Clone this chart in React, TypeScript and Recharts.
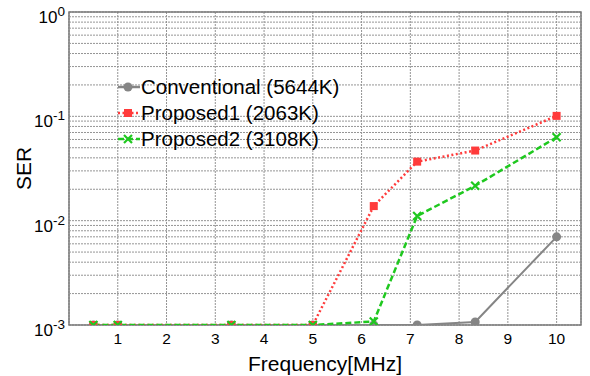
import {
  CartesianGrid,
  Line,
  LineChart,
  ReferenceArea,
  ReferenceLine,
  XAxis,
  YAxis,
} from "recharts";

const FONT = "Arial, 'Liberation Sans', sans-serif";

const freq = [0.5, 1, 3.33, 5, 6.25, 7.14, 8.33, 10];
const conventional = [0.001, 0.001, 0.001, 0.001, 0.001, 0.001, 0.00107, 0.007];
const proposed1 = [0.001, 0.001, 0.001, 0.001, 0.0138, 0.0368, 0.047, 0.101];
const proposed2 = [0.001, 0.001, 0.001, 0.001, 0.00108, 0.0111, 0.0216, 0.063];

const xTicks = [1, 2, 3, 4, 5, 6, 7, 8, 9, 10];
const yTicks = [0.001, 0.01, 0.1, 1];
const minorY = [0.001, 0.01, 0.1].flatMap((d) =>
  [2, 3, 4, 5, 6, 7, 8, 9].map((m) => +(d * m).toPrecision(3))
);

const series = [
  { key: "conv", name: "Conventional (5644K)", color: "#858585", dash: undefined, marker: "circle" },
  { key: "p1", name: "Proposed1 (2063K)", color: "#ff3b3b", dash: "2 2.5", marker: "square" },
  { key: "p2", name: "Proposed2 (3108K)", color: "#1fc81f", dash: "6 3", marker: "cross" },
];

const rows = freq.map((f, i) => ({
  f,
  conv: conventional[i],
  p1: proposed1[i],
  p2: proposed2[i],
}));

function Marker({ type, cx, cy, color }: { type: string; cx: number; cy: number; color: string }) {
  if (type === "circle") return <circle cx={cx} cy={cy} r={4.5} fill={color} stroke="none" />;
  if (type === "square")
    return <rect x={cx - 4} y={cy - 4} width={8} height={8} fill={color} stroke="none" />;
  return (
    <path
      d={`M${cx - 4},${cy - 4}L${cx + 4},${cy + 4}M${cx - 4},${cy + 4}L${cx + 4},${cy - 4}`}
      stroke={color}
      strokeWidth={2.2}
      fill="none"
    />
  );
}

function YTick({ x, y, payload }: any) {
  const exp = Math.round(Math.log10(payload.value));
  return (
    <text x={x + 4} y={y} textAnchor="end" fontFamily={FONT} fill="#000">
      <tspan fontSize={17} dy={11}>10</tspan>
      <tspan fontSize={13.5} dy={-7}>{exp}</tspan>
    </text>
  );
}

function XTick({ x, y, payload }: any) {
  return (
    <text x={x} y={y} dy={11} textAnchor="middle" fontFamily={FONT} fontSize={15.5} fill="#000">
      {payload.value}
    </text>
  );
}

function SerLabel({ viewBox }: any) {
  const cx = 23;
  const cy = viewBox.y + viewBox.height / 2;
  return (
    <text
      x={cx}
      y={cy}
      transform={`rotate(-90 ${cx} ${cy})`}
      textAnchor="middle"
      dominantBaseline="central"
      fontFamily={FONT}
      fontSize={21}
      fill="#000"
    >
      SER
    </text>
  );
}

function LegendBox() {
  return (
    <div
      style={{
        position: "absolute",
        left: 117,
        top: 74,
        fontFamily: FONT,
        fontSize: 20.5,
        lineHeight: "26px",
        color: "#000",
      }}
    >
      {series.map((s) => (
        <div key={s.key} style={{ display: "flex", alignItems: "center", height: 26 }}>
          <svg width={24} height={26}>
            <line x1={1} y1={13} x2={23} y2={13} stroke={s.color} strokeWidth={2.5} strokeDasharray={s.dash} />
            <Marker type={s.marker} cx={11} cy={13} color={s.color} />
          </svg>
          <span style={{ whiteSpace: "nowrap" }}>{s.name}</span>
        </div>
      ))}
    </div>
  );
}

export default function App() {
  return (
    <div style={{ position: "absolute", left: 0, top: 0, width: 590, height: 376, background: "#fff" }}>
      <LineChart width={590} height={376} data={rows} margin={{ top: 12, right: 9, bottom: 0, left: 0 }}>
        <CartesianGrid stroke="#959595" strokeDasharray="2 1" />
        {minorY.map((v) => (
          <ReferenceLine key={v} y={v} stroke="#959595" strokeDasharray="2 1" />
        ))}
        <XAxis
          dataKey="f"
          type="number"
          domain={[0, 10.5]}
          ticks={xTicks}
          height={51}
          tickLine={false}
          axisLine={false}
          tick={<XTick />}
          label={{
            value: "Frequency[MHz]",
            position: "insideBottom",
            offset: 5,
            style: { fontFamily: FONT, fontSize: 21, fill: "#000" },
          }}
        />
        <YAxis
          type="number"
          scale="log"
          domain={[0.001, 1]}
          ticks={yTicks}
          allowDataOverflow
          width={69}
          tickLine={false}
          axisLine={false}
          tick={<YTick />}
          label={<SerLabel />}
        />
        <ReferenceArea x1={0} x2={10.5} y1={0.001} y2={1} fill="none" stroke="#7a7a7a" strokeWidth={1.5} />
        {series.map((s) => (
          <Line
            key={s.key}
            dataKey={s.key}
            name={s.name}
            stroke={s.color}
            strokeWidth={s.key === "conv" ? 2 : 2.5}
            strokeDasharray={s.dash}
            isAnimationActive={false}
            dot={(p: any) => <Marker key={`${s.key}-${p.index}`} type={s.marker} cx={p.cx} cy={p.cy} color={s.color} />}
            activeDot={false}
          />
        ))}
      </LineChart>
      <LegendBox />
    </div>
  );
}
